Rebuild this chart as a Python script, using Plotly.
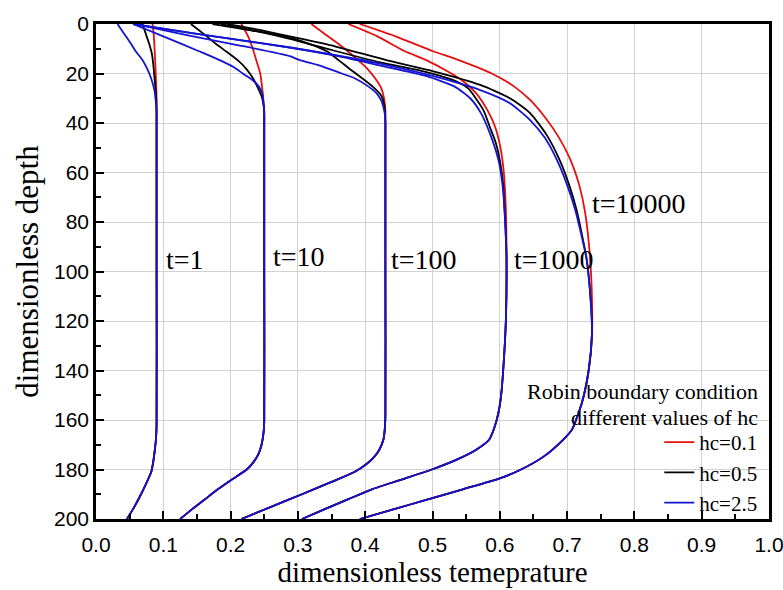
import plotly.graph_objects as go

# ---------------- data ----------------
hc_labels = ["hc=0.1", "hc=0.5", "hc=2.5"]
time_labels = ["t=1", "t=10", "t=100", "t=1000", "t=10000"]

# t = 1 : near-surface parts for each hc
d_t1_red = [0, 5, 10, 15, 22, 30]
T_t1_red = [0.084, 0.086, 0.087, 0.088, 0.089, 0.090]
d_t1_blk = [0, 4, 8, 12, 16, 22, 28, 34]
T_t1_blk = [0.069, 0.074, 0.079, 0.083, 0.085, 0.087, 0.089, 0.090]
d_t1_blu = [0, 4, 8, 11, 14.5, 18, 22, 27, 32, 36]
T_t1_blu = [0.032, 0.042, 0.052, 0.059, 0.069, 0.076, 0.082, 0.087, 0.089, 0.090]
# t = 1 : deep part (identical for all hc)
d_t1_bot = [40, 100, 162, 168, 173, 177, 181, 186, 191, 196, 200]
T_t1_bot = [0.090, 0.090, 0.090, 0.089, 0.087, 0.085, 0.082, 0.074, 0.065, 0.055, 0.046]

# t = 10
d_t10_red = [0, 5, 10, 14.5, 20, 26, 32, 38]
T_t10_red = [0.216, 0.226, 0.233, 0.238, 0.244, 0.247, 0.249, 0.250]
d_t10_blk = [0, 4, 8, 11, 14.5, 18, 21.8, 26, 30, 35]
T_t10_blk = [0.141, 0.160, 0.178, 0.193, 0.210, 0.223, 0.233, 0.241, 0.247, 0.250]
d_t10_blu = [0, 5, 11, 14.5, 17.5, 20, 22.5, 25.3, 28, 32, 36]
T_t10_blu = [0.055, 0.100, 0.153, 0.183, 0.205, 0.218, 0.232, 0.242, 0.247, 0.249, 0.250]
d_t10_bot = [40, 100, 160, 165, 170, 174, 177, 180, 184, 188, 192, 196, 200]
T_t10_bot = [0.250, 0.250, 0.250, 0.249, 0.246, 0.241, 0.234, 0.224, 0.202, 0.181, 0.162, 0.143, 0.125]

# t = 100
d_t100_red = [0, 4, 8, 11, 14.5, 18, 22, 26, 30, 35, 40]
T_t100_red = [0.320, 0.340, 0.360, 0.374, 0.389, 0.403, 0.415, 0.424, 0.428, 0.430, 0.430]
d_t100_blk = [0, 3, 5.5, 8.5, 11, 14.5, 19, 22, 25.5, 29, 34, 40]
T_t100_blk = [0.173, 0.240, 0.288, 0.322, 0.343, 0.360, 0.381, 0.396, 0.412, 0.424, 0.429, 0.430]
d_t100_blu = [0, 4.5, 8.5, 13, 14.5, 17, 20, 22, 25.3, 28, 31, 36, 40]
T_t100_blu = [0.058, 0.135, 0.210, 0.288, 0.302, 0.335, 0.365, 0.385, 0.405, 0.417, 0.424, 0.429, 0.430]
d_t100_bot = [45, 100, 158, 164, 168, 172, 175, 178, 181, 185, 190, 195, 200]
T_t100_bot = [0.430, 0.430, 0.430, 0.429, 0.427, 0.421, 0.413, 0.401, 0.384, 0.350, 0.306, 0.261, 0.216]

# t = 1000
d_t1000_red = [0, 5, 11, 14.5, 20, 23, 28, 35, 41.5, 50, 60, 75, 90]
T_t1000_red = [0.375, 0.418, 0.459, 0.490, 0.528, 0.545, 0.565, 0.582, 0.593, 0.601, 0.606, 0.609, 0.610]
d_t1000_blk = [0, 3, 6, 10.5, 15.5, 19, 22.6, 26, 30.7, 35, 41.5, 48, 55, 65, 80]
T_t1000_blk = [0.185, 0.240, 0.288, 0.350, 0.422, 0.485, 0.530, 0.553, 0.566, 0.576, 0.585, 0.594, 0.600, 0.605, 0.608]
d_t1000_blu = [0, 4, 9.5, 13, 16.8, 21, 25.3, 30, 36, 44, 55, 65, 80]
T_t1000_blu = [0.055, 0.150, 0.288, 0.360, 0.422, 0.490, 0.533, 0.556, 0.572, 0.585, 0.598, 0.604, 0.608]
d_t1000_bot = [95, 120, 140, 150, 157, 163, 168, 172, 176, 180, 184, 188, 192, 196, 200]
T_t1000_bot = [0.610, 0.609, 0.605, 0.602, 0.598, 0.592, 0.584, 0.565, 0.536, 0.499, 0.455, 0.410, 0.375, 0.340, 0.306]

# t = 10000
d_t10000_red = [0, 5, 11, 14.5, 20, 25, 30.7, 38, 45.5, 52, 57.6, 65, 76.5, 94, 111.5]
T_t10000_red = [0.392, 0.445, 0.501, 0.538, 0.588, 0.620, 0.645, 0.668, 0.687, 0.700, 0.709, 0.718, 0.727, 0.734, 0.737]
d_t10000_blk = [0, 2.5, 5, 9, 14.5, 19, 24.6, 30, 36, 45, 55, 65, 75, 85, 95, 111.5]
T_t10000_blk = [0.195, 0.245, 0.288, 0.355, 0.430, 0.500, 0.571, 0.615, 0.645, 0.670, 0.689, 0.703, 0.714, 0.722, 0.729, 0.735]
d_t10000_blu = [0, 4, 9.5, 16, 21, 26.7, 32, 38.8, 46, 55, 65, 75, 85, 95, 111.5]
T_t10000_blu = [0.055, 0.150, 0.288, 0.422, 0.500, 0.571, 0.615, 0.645, 0.667, 0.685, 0.700, 0.712, 0.721, 0.729, 0.735]
d_t10000_bot = [125, 140, 153, 164, 168, 174.8, 180.2, 183.6, 188, 192.5, 196, 200]
T_t10000_bot = [0.737, 0.732, 0.722, 0.707, 0.694, 0.665, 0.630, 0.600, 0.545, 0.488, 0.443, 0.392]

# curve-label anchor points (temperature, depth)
label_T = [0.101, 0.260, 0.436, 0.618, 0.734]
label_d = [95, 94, 95, 95, 72.5]

x_tickvals = [0.0, 0.1, 0.2, 0.3, 0.4, 0.5, 0.6, 0.7, 0.8, 0.9, 1.0]
x_ticktext = ["0.0", "0.1", "0.2", "0.3", "0.4", "0.5", "0.6", "0.7", "0.8", "0.9", "1.0"]
y_tickvals = [0, 20, 40, 60, 80, 100, 120, 140, 160, 180, 200]
y_ticktext = ["0", "20", "40", "60", "80", "100", "120", "140", "160", "180", "200"]

# ---------------- assemble ----------------
tops = {
    "red": [(d_t1_red, T_t1_red), (d_t10_red, T_t10_red), (d_t100_red, T_t100_red),
            (d_t1000_red, T_t1000_red), (d_t10000_red, T_t10000_red)],
    "blk": [(d_t1_blk, T_t1_blk), (d_t10_blk, T_t10_blk), (d_t100_blk, T_t100_blk),
            (d_t1000_blk, T_t1000_blk), (d_t10000_blk, T_t10000_blk)],
    "blu": [(d_t1_blu, T_t1_blu), (d_t10_blu, T_t10_blu), (d_t100_blu, T_t100_blu),
            (d_t1000_blu, T_t1000_blu), (d_t10000_blu, T_t10000_blu)],
}
bots = [(d_t1_bot, T_t1_bot), (d_t10_bot, T_t10_bot), (d_t100_bot, T_t100_bot),
        (d_t1000_bot, T_t1000_bot), (d_t10000_bot, T_t10000_bot)]

colors = {"red": "#e41010", "blk": "#000000", "blu": "#1414d2"}
names = {"red": hc_labels[0], "blk": hc_labels[1], "blu": hc_labels[2]}

fig = go.Figure()
for key in ["red", "blk", "blu"]:
    for i, (dtop, Ttop) in enumerate(tops[key]):
        dbot, Tbot = bots[i]
        fig.add_trace(go.Scatter(
            x=Ttop + Tbot, y=dtop + dbot, mode="lines",
            line=dict(color=colors[key], width=1.8, shape="spline", smoothing=0.6),
            name=names[key], legendgroup=key, showlegend=(i == 0),
            hoverinfo="skip"))

serif = "Liberation Serif, Times New Roman, serif"
sans = "Liberation Sans, Arial, sans-serif"

annotations = []
for txt, tx, dy in zip(time_labels, label_T, label_d):
    annotations.append(dict(x=tx, y=dy, xref="x", yref="y", text=txt, showarrow=False,
                            xanchor="left", yanchor="middle",
                            font=dict(family=serif, size=28, color="black")))
annotations.append(dict(x=0.986, y=148.5, xref="x", yref="y", text="Robin boundary condition",
                        showarrow=False, xanchor="right", yanchor="middle",
                        font=dict(family=serif, size=22, color="black")))
annotations.append(dict(x=0.986, y=158.8, xref="x", yref="y", text="different values of hc",
                        showarrow=False, xanchor="right", yanchor="middle",
                        font=dict(family=serif, size=22, color="black")))

axis_common = dict(
    showgrid=True, gridcolor="#d2d2d2", gridwidth=1,
    showline=True, linecolor="black", linewidth=2.5, mirror=True,
    ticks="inside", ticklen=8, tickwidth=2, tickcolor="black",
    zeroline=False, ticklabeloverflow="allow", automargin=False,
    tickfont=dict(family=sans, size=21, color="black"),
)

fig.update_layout(
    width=783, height=590,
    margin=dict(l=96, r=14, t=24, b=71, autoexpand=False),
    plot_bgcolor="white", paper_bgcolor="white",
    xaxis=dict(range=[0, 1], tickmode="array", tickvals=x_tickvals, ticktext=x_ticktext,
               minor=dict(tickmode="linear", tick0=0, dtick=0.05, ticks="inside",
                          ticklen=5, tickwidth=1.5, tickcolor="black", showgrid=False),
               ticklabelstandoff=5,
               title=dict(text="dimensionless temeprature", standoff=6,
                          font=dict(family=serif, size=29, color="black")),
               **axis_common),
    yaxis=dict(range=[200, 0], tickmode="array", tickvals=y_tickvals, ticktext=y_ticktext,
               minor=dict(tickmode="linear", tick0=0, dtick=10, ticks="inside",
                          ticklen=5, tickwidth=1.5, tickcolor="black", showgrid=False),
               title=dict(text="dimensionless depth", standoff=7,
                          font=dict(family=serif, size=31, color="black")),
               **axis_common),
    legend=dict(x=0.99, xanchor="right", y=-0.008, yanchor="bottom",
                bgcolor="rgba(0,0,0,0)", borderwidth=0,
                font=dict(family=serif, size=21, color="black"),
                tracegroupgap=0, itemwidth=30),
    annotations=annotations,
)

fig.write_html("out.html")
